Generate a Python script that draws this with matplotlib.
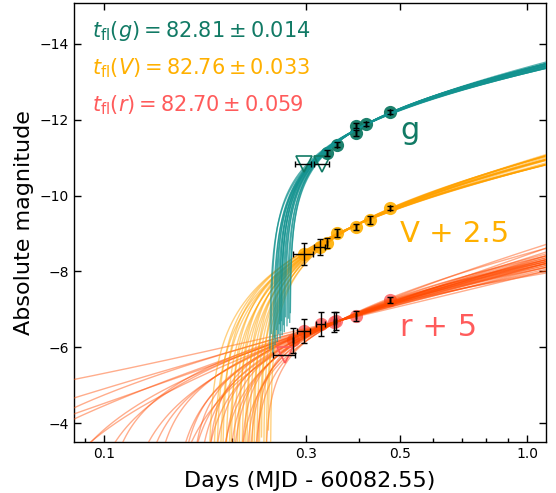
import numpy as np
import matplotlib
matplotlib.use("Agg")
import matplotlib.pyplot as plt
from matplotlib.ticker import FixedLocator, FixedFormatter, LogLocator, NullFormatter

# ---------------- data (days since MJD 60082.55, absolute magnitudes) ----------------
g_t = [0.337, 0.356, 0.393, 0.393, 0.415, 0.475]
g_mag = [-11.12, -11.34, -11.65, -11.84, -11.89, -12.21]
g_yerr = [0.07, 0.07, 0.08, 0.07, 0.06, 0.05]
g_xerr = [0.0, 0.0, 0.0, 0.0, 0.0, 0.0]

V_offset = 2.5
V_t = [0.296, 0.323, 0.337, 0.356, 0.393, 0.424, 0.475]
V_mag = [-10.96, -11.14, -11.25, -11.51, -11.67, -11.86, -12.17]
V_yerr = [0.29, 0.21, 0.12, 0.10, 0.08, 0.10, 0.05]
V_xerr = [0.016, 0.010, 0.0, 0.0, 0.0, 0.0, 0.0]

r_offset = 5.0
r_t = [0.279, 0.296, 0.3246, 0.3487, 0.3541, 0.393, 0.475]
r_mag = [-11.19, -11.43, -11.61, -11.665, -11.69, -11.82, -12.245]
r_yerr = [0.33, 0.32, 0.32, 0.26, 0.24, 0.13, 0.08]
r_xerr = [0.0, 0.010, 0.008, 0.0, 0.0, 0.0, 0.0]

# upper limits
g_lim_t = [0.296, 0.3265]
g_lim_mag = [-10.83, -10.83]
g_lim_xerr = [0.013, 0.013]
r_lim_t = [0.267]
r_lim_mag = [-10.79]
r_lim_xerr = [0.016]

# power-law rise fits: mag = m_anchor - 2.5 n log10((t - t0)/(t_anchor - t0))
g_anchor = (0.40, -11.78)
g_fit_t0 = [0.246, 0.248, 0.250, 0.252, 0.253, 0.255, 0.256, 0.258, 0.259, 0.260,
            0.261, 0.262, 0.263, 0.265, 0.266, 0.268, 0.270, 0.272, 0.274, 0.275]
g_fit_n = [0.90, 0.84, 0.92, 0.86, 0.89, 0.83, 0.88, 0.85, 0.81, 0.87,
           0.84, 0.80, 0.86, 0.82, 0.85, 0.79, 0.83, 0.80, 0.82, 0.78]

V_anchor = (0.39, -11.70)
V_fit_t0 = [0.176, 0.180, 0.184, 0.187, 0.190, 0.193, 0.196, 0.199, 0.202, 0.205, 0.208, 0.211,
            0.214, 0.217, 0.220, 0.223, 0.226, 0.229, 0.232, 0.235, 0.238, 0.241, 0.244, 0.247]
V_fit_n = [1.08, 1.15, 1.02, 1.10, 0.98, 1.06, 1.12, 0.96, 1.03, 1.08, 0.93, 1.00,
           1.05, 0.91, 0.97, 1.02, 0.88, 0.94, 0.99, 0.86, 0.92, 0.96, 0.84, 0.90]

r_anchor = (0.36, -11.70)
r_fit_t0 = [-0.02, 0.00, 0.01, 0.03, 0.04, 0.06, 0.07, 0.09, 0.10, 0.11, 0.12, 0.13, 0.14, 0.145,
            0.15, 0.155, 0.16, 0.165, 0.17, 0.175, 0.18, 0.185, 0.19, 0.195, 0.20, 0.205, 0.21,
            0.215, 0.22, 0.225, 0.23, 0.24]
r_fit_n = [1.109, 1.567, 1.217, 1.331, 1.077, 1.333, 1.164, 1.047, 0.923, 1.104, 1.015, 0.928,
           1.25, 0.988, 0.915, 1.025, 0.833, 0.910, 0.957, 0.744, 0.847, 0.975, 0.796, 0.866,
           0.827, 0.998, 0.724, 0.815, 0.752, 0.838, 0.606, 0.725]

tfl_labels = [r"$t_{\rm fl}(g) = 82.81 \pm 0.014$",
              r"$t_{\rm fl}(V) = 82.76 \pm 0.033$",
              r"$t_{\rm fl}(r) = 82.70 \pm 0.059$"]
band_labels = ["g", "V + 2.5", "r + 5"]
xtick_vals = [0.1, 0.3, 0.5, 1.0]
xtick_labels = ["0.1", "0.3", "0.5", "1.0"]
ytick_vals = [-14, -12, -10, -8, -6, -4]

# ---------------- styling ----------------
c_g_pt, c_g_ln = "#117a65", "#12928f"
c_V_pt, c_V_ln = "#ffb000", "#ffa200"
c_r_pt, c_r_ln = "#ff5b5b", "#ff4a00"

fig = plt.figure(figsize=(5.56, 4.93), dpi=100)
ax = fig.add_axes([74 / 556, 1 - 442 / 493, 472 / 556, 439 / 493])
ax.set_xscale("log")


def fit_curves(t0s, ns, anchor, offset, color, alpha):
    ta, ma = anchor
    for t0, n in zip(t0s, ns):
        dt = np.geomspace(4e-4, 1.3 - t0, 600)
        t = t0 + dt
        m = ma - 2.5 * n * np.log10(dt / (ta - t0)) + offset
        ax.plot(t, m, color=color, lw=1.0, alpha=alpha, zorder=3)


fit_curves(r_fit_t0, r_fit_n, r_anchor, r_offset, c_r_ln, 0.45)
fit_curves(V_fit_t0, V_fit_n, V_anchor, V_offset, c_V_ln, 0.5)
fit_curves(g_fit_t0, g_fit_n, g_anchor, 0.0, c_g_ln, 0.7)

for t, m, ye, xe, off, col, al in [
    (g_t, g_mag, g_yerr, g_xerr, 0.0, c_g_pt, 0.95),
    (V_t, V_mag, V_yerr, V_xerr, V_offset, c_V_pt, 0.9),
    (r_t, r_mag, r_yerr, r_xerr, r_offset, c_r_pt, 0.8),
]:
    mm = np.array(m) + off
    ax.plot(t, mm, "o", ms=9.5, color=col, alpha=al, mec="none", zorder=2)
    ax.errorbar(t, mm, yerr=ye, xerr=xe, fmt="none", ecolor="black", elinewidth=1,
                capsize=2, capthick=1, zorder=5)

for t, m, xe, off, col in [(g_lim_t, g_lim_mag, g_lim_xerr, 0.0, c_g_pt),
                           (r_lim_t, r_lim_mag, r_lim_xerr, r_offset, c_r_pt)]:
    mm = np.array(m) + off
    ax.plot(t, mm, "v", ms=11, mfc="none", mec=col, mew=1.2, zorder=4)
    ax.errorbar(t, mm, xerr=xe, fmt="none", ecolor="black", elinewidth=1,
                capsize=2, capthick=1, zorder=5)

ax.set_xlim(0.0848, 1.108)
ax.set_ylim(-3.5, -15.08)

ax.xaxis.set_major_locator(FixedLocator(xtick_vals))
ax.xaxis.set_major_formatter(FixedFormatter(xtick_labels))
ax.xaxis.set_minor_locator(LogLocator(base=10, subs=np.arange(2, 10)))
ax.xaxis.set_minor_formatter(NullFormatter())
ax.set_yticks(ytick_vals)

ax.tick_params(which="both", direction="in", top=True, right=True, labelsize=10, width=1)
ax.tick_params(which="major", length=5)
ax.tick_params(which="minor", length=3, top=False)
for s in ax.spines.values():
    s.set_linewidth(1.0)

ax.set_xlabel("Days (MJD - 60082.55)", fontsize=16, labelpad=7)
ax.set_ylabel("Absolute magnitude", fontsize=16)

for lab, col, yb in zip(tfl_labels, [c_g_pt, c_V_pt, c_r_pt], [0.923, 0.838, 0.752]):
    ax.text(0.038, yb, lab, color=col, fontsize=15, transform=ax.transAxes, va="baseline")

ax.text(0.691, (442 - 139) / 439, band_labels[0], color=c_g_pt, fontsize=22,
        transform=ax.transAxes, va="baseline")
ax.text(0.691, (442 - 241.5) / 439, band_labels[1], color=c_V_pt, fontsize=21,
        transform=ax.transAxes, va="baseline")
ax.text(0.691, (442 - 336.5) / 439, band_labels[2], color=c_r_pt, fontsize=22,
        transform=ax.transAxes, va="baseline")

fig.savefig("out.png", dpi=100)
